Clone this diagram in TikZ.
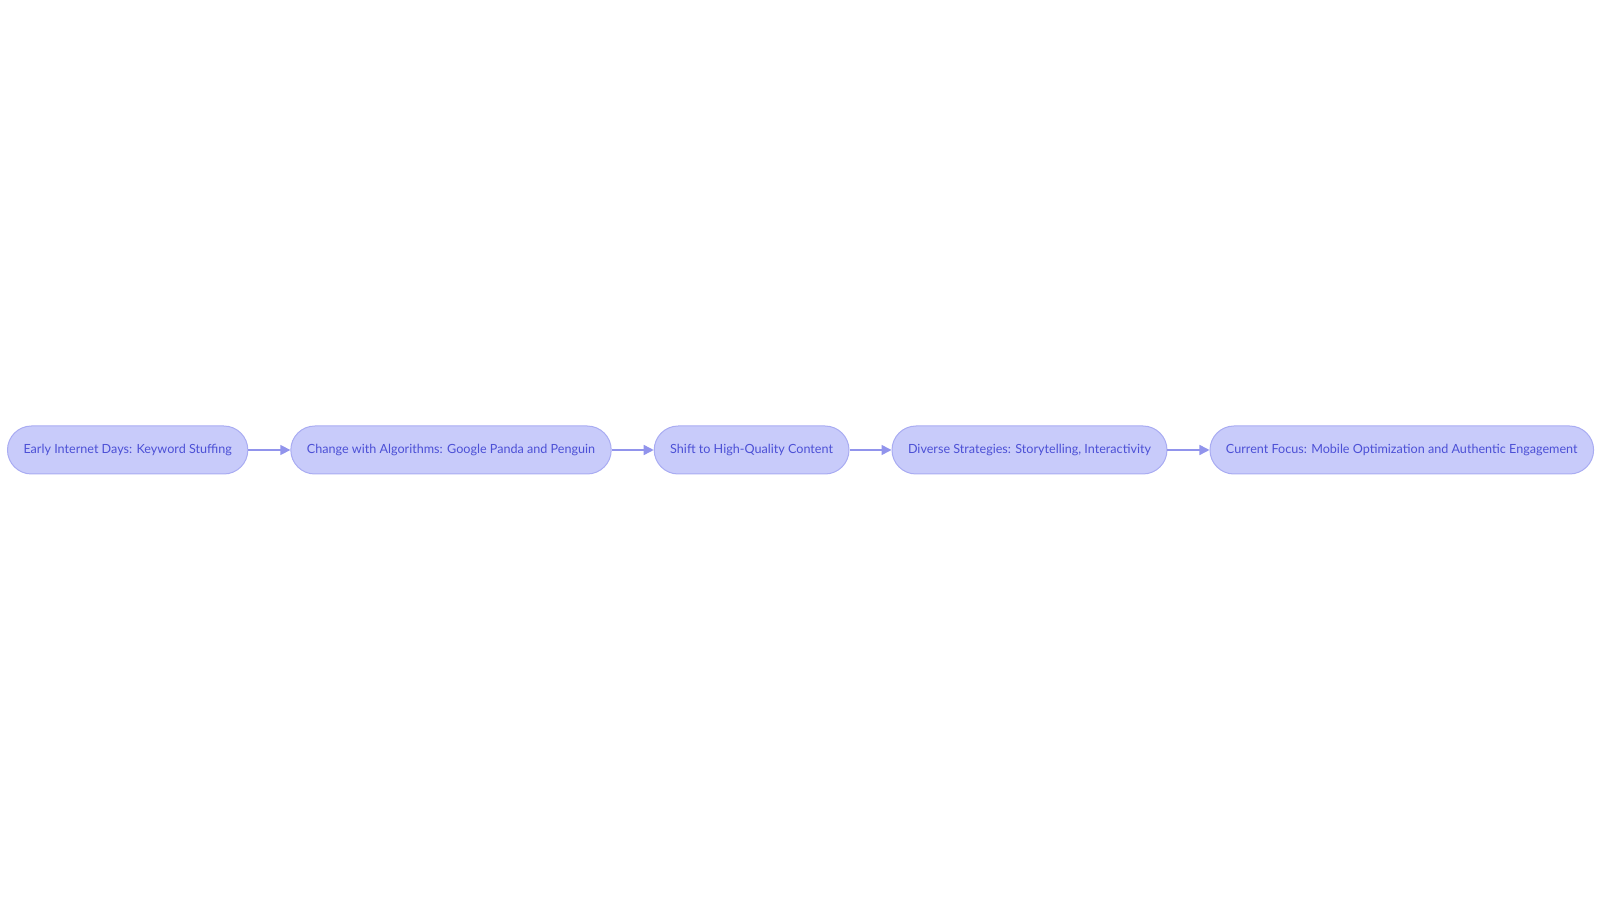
\documentclass[tikz,border=0pt]{standalone}
\usepackage{fontspec}
\setmainfont{Lato}
\usetikzlibrary{positioning}
\usetikzlibrary {arrows.meta}
\definecolor{stagefill}{HTML}{C8CBFA}
\definecolor{stageline}{HTML}{A9ACF2}
\definecolor{stagetext}{HTML}{4C50D6}
\definecolor{flowline}{HTML}{9194EC}
\tikzset{stage/.style={rectangle,rounded corners=24pt,draw=stageline,fill=stagefill,
line width=1pt,text=stagetext,font=\fontsize{12.6pt}{15pt}\selectfont,
inner xsep=16pt,minimum height=48pt}}
\tikzset{flow/.style={draw=flowline,line width=1.5pt,-{Triangle[length=10pt,width=10pt]}}}

\begin{document}
\begin{tikzpicture}[x=1pt,y=1pt]
        \useasboundingbox (0,0) rectangle (1600,903);

        \node[stage,anchor=west] (early) at (7, 453) {Early Internet Days: Keyword Stuffing};
        \node[stage] (algo) [right=42pt of early] {Change with Algorithms: Google Panda and Penguin};
        \node[stage] (shift) [right=42pt of algo] {Shift to High-Quality Content};
        \node[stage] (diverse) [right=42pt of shift] {Diverse Strategies: Storytelling, Interactivity};
        \node[stage] (current) [right=42pt of diverse] {Current Focus: Mobile Optimization and Authentic Engagement};

        \draw [flow] (early) -- (algo);
        \draw [flow] (algo) -- (shift);
        \draw [flow] (shift) -- (diverse);
        \draw [flow] (diverse) -- (current);

    \end{tikzpicture}
\end{document}
